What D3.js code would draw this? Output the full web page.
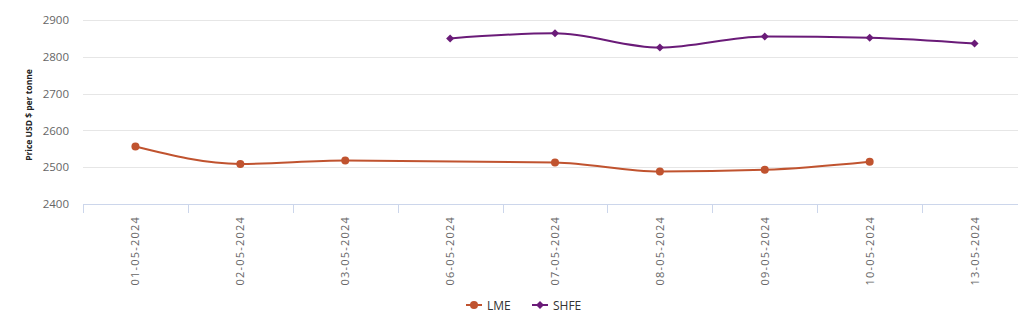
<!DOCTYPE html>
<html>
<head>
<meta charset="utf-8">
<script src="https://cdn.jsdelivr.net/npm/d3@7"></script>
<style>
  html, body { margin: 0; padding: 0; background: #fff; }
  svg { display: block; font-family: "Open Sans", "DejaVu Sans", sans-serif; }
</style>
</head>
<body>
<svg id="chart" width="1027" height="323"></svg>
<script>
// Daily aluminium prices, USD per tonne
const dates = ["01-05-2024", "02-05-2024", "03-05-2024", "06-05-2024", "07-05-2024",
               "08-05-2024", "09-05-2024", "10-05-2024", "13-05-2024"];
const lmePrices  = [2556, 2509, 2518, null, 2513, 2488, 2493, 2515, null];
const shfePrices = [null, null, null, 2850, 2864, 2825, 2855, 2852, 2836];
const yTicks = [2400, 2500, 2600, 2700, 2800, 2900];

const series = [
  { name: "LME",  values: lmePrices,  color: "#c0532f", marker: "circle" },
  { name: "SHFE", values: shfePrices, color: "#6a1b78", marker: "diamond" }
];

const svg = d3.select("#chart");
const plotLeft = 83, plotRight = 1027, gridRight = 1018, plotTop = 20, plotBottom = 204;

const x = d3.scaleBand().domain(dates).range([plotLeft, plotRight]);
const y = d3.scaleLinear().domain([2400, 2900]).range([plotBottom, plotTop]);

// horizontal grid lines
svg.append("g").selectAll("line")
  .data(yTicks.filter(t => t !== 2400))
  .join("line")
  .attr("x1", plotLeft).attr("x2", gridRight)
  .attr("y1", d => Math.round(y(d)) + 0.5).attr("y2", d => Math.round(y(d)) + 0.5)
  .attr("stroke", "#e6e6e6").attr("stroke-width", 1);

// y axis labels
const yAxis = svg.append("g")
  .attr("transform", `translate(${plotLeft},0)`)
  .call(d3.axisLeft(y).tickValues(yTicks).tickFormat(d3.format("d")).tickSize(0).tickPadding(14));
yAxis.select(".domain").remove();
yAxis.selectAll("text")
  .attr("fill", "#666").attr("font-size", 11.5)
  .attr("font-family", "'Open Sans', sans-serif");

// y axis title
svg.append("text")
  .attr("transform", `translate(32,${(plotTop + plotBottom) / 2 + 3}) rotate(-90)`)
  .attr("text-anchor", "middle")
  .attr("font-size", 8.5).attr("font-weight", "bold").attr("fill", "#222")
  .text("Price USD $ per tonne");

// x axis baseline and ticks at category boundaries
svg.append("line")
  .attr("x1", plotLeft).attr("x2", gridRight)
  .attr("y1", plotBottom + 0.5).attr("y2", plotBottom + 0.5)
  .attr("stroke", "#ccd6eb");
svg.append("g").selectAll("line")
  .data(dates)
  .join("line")
  .attr("x1", d => Math.round(x(d)) + 0.5).attr("x2", d => Math.round(x(d)) + 0.5)
  .attr("y1", plotBottom).attr("y2", plotBottom + 9)
  .attr("stroke", "#ccd6eb");

// rotated date labels
svg.append("g").selectAll("text")
  .data(dates)
  .join("text")
  .attr("transform", d => `translate(${x(d) + x.bandwidth() / 2 + 4},${plotBottom + 12}) rotate(-90)`)
  .attr("text-anchor", "end")
  .attr("font-size", 11).attr("fill", "#666")
  .attr("letter-spacing", 1.2)
  .text(d => d);

// spline lines, gaps bridged
const cx = (d) => x(d.date) + x.bandwidth() / 2;
const line = d3.line()
  .x(cx)
  .y(d => y(d.value))
  .curve(d3.curveMonotoneX);

const diamond = (s) => `M0,${-s}L${s},0L0,${s}L${-s},0Z`;

series.forEach(s => {
  const pts = dates.map((date, i) => ({ date, value: s.values[i] }))
    .filter(p => p.value != null);
  svg.append("path")
    .datum(pts)
    .attr("fill", "none")
    .attr("stroke", s.color)
    .attr("stroke-width", 2)
    .attr("d", line);
  const g = svg.append("g");
  if (s.marker === "circle") {
    g.selectAll("circle").data(pts).join("circle")
      .attr("cx", cx).attr("cy", d => y(d.value))
      .attr("r", 4).attr("fill", s.color);
  } else {
    g.selectAll("path").data(pts).join("path")
      .attr("transform", d => `translate(${cx(d)},${y(d.value)})`)
      .attr("d", diamond(4)).attr("fill", s.color);
  }
});

// legend
const legend = svg.append("g").attr("transform", "translate(466,305)");
const legendX = [0, 66];
series.forEach((s, i) => {
  const g = legend.append("g").attr("transform", `translate(${legendX[i]},0)`);
  g.append("line").attr("x1", 0).attr("x2", 16).attr("y1", 0).attr("y2", 0)
    .attr("stroke", s.color).attr("stroke-width", 2);
  if (s.marker === "circle") {
    g.append("circle").attr("cx", 8).attr("cy", 0).attr("r", 4).attr("fill", s.color);
  } else {
    g.append("path").attr("transform", "translate(8,0)").attr("d", diamond(4)).attr("fill", s.color);
  }
  g.append("text").attr("x", 21).attr("y", 4.5)
    .attr("font-size", 12).attr("fill", "#333").attr("font-weight", 500)
    .text(s.name);
});
</script>
</body>
</html>
